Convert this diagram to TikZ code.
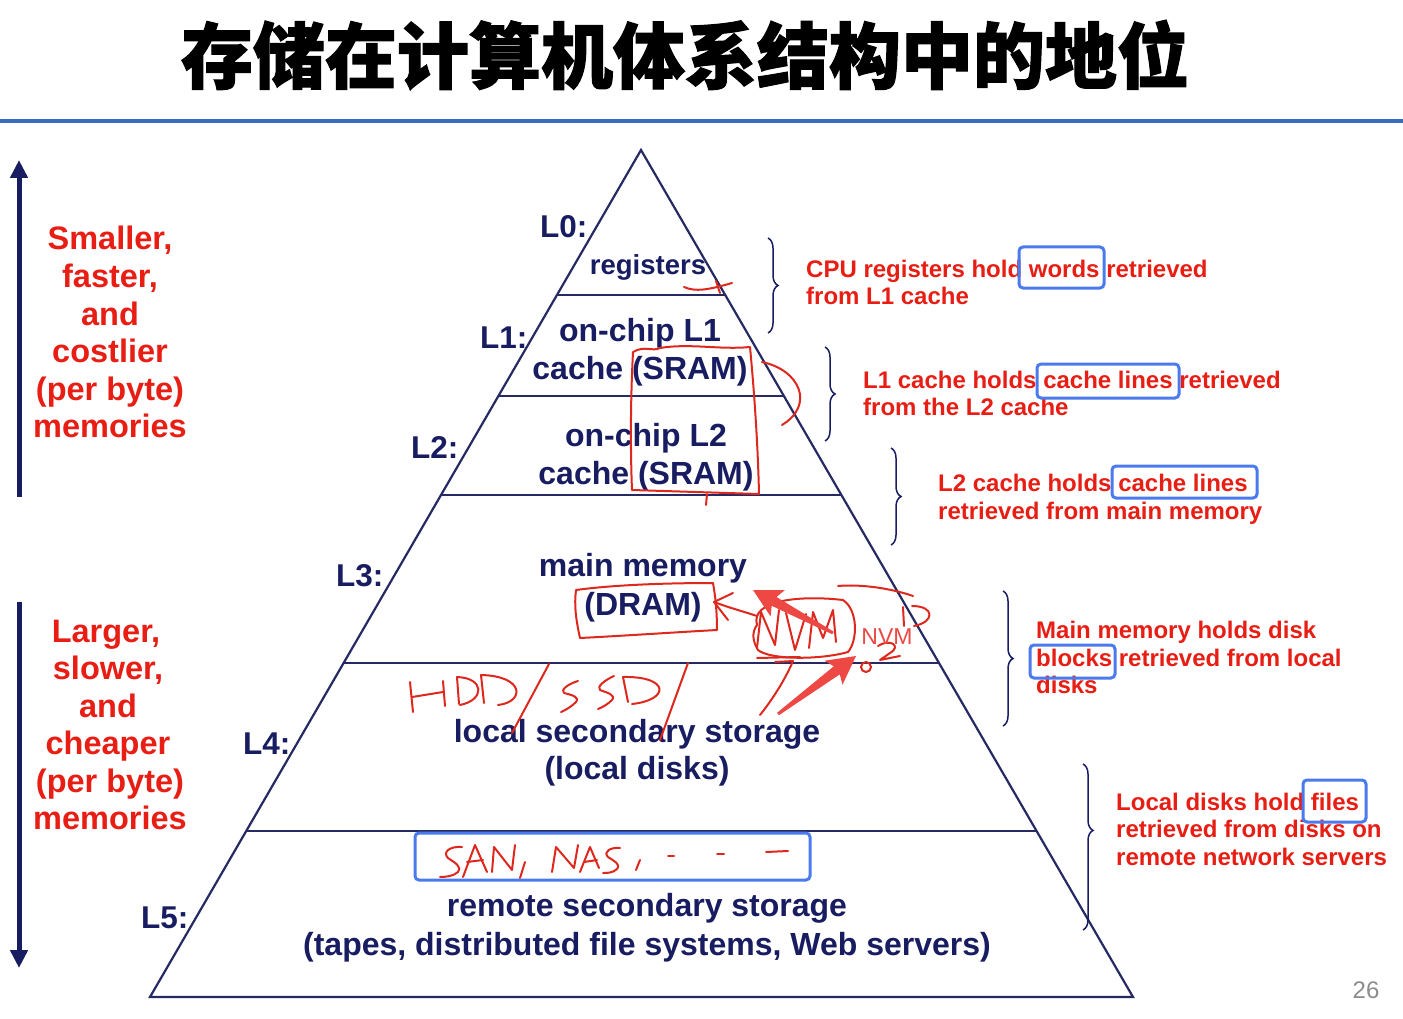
\documentclass[tikz,border=0pt]{standalone}
\usepackage{fontspec}
\setmainfont{Liberation Sans}
\newfontfamily\cjk[BoldFeatures={FakeBold=1.5}]{Noto Sans CJK SC}
\usetikzlibrary{arrows.meta,decorations.pathreplacing,calc}

\definecolor{navy}{RGB}{24,28,96}
\definecolor{edge}{RGB}{38,42,98}
\definecolor{hired}{RGB}{232,30,20}
\definecolor{ink}{RGB}{222,40,30}
\definecolor{boxblue}{RGB}{74,122,238}
\definecolor{arrowred}{RGB}{238,72,68}
\definecolor{rulecol}{RGB}{58,108,190}

\tikzset{
  lvl/.style={text=navy, font=\bfseries\fontsize{31.5}{37}\selectfont, anchor=base west, inner sep=0pt},
  ptext/.style={text=navy, font=\bfseries\fontsize{32}{38}\selectfont, anchor=base, inner sep=0pt},
  regtext/.style={text=navy, font=\bfseries\fontsize{27.5}{33}\selectfont, anchor=base, inner sep=0pt},
  desc/.style={text=hired, font=\bfseries\fontsize{24}{28}\selectfont, anchor=base west, inner sep=0pt},
  side/.style={text=hired, font=\bfseries\fontsize{32.5}{38}\selectfont, anchor=base, inner sep=0pt},
  hlbox/.style={draw=boxblue, line width=3pt, rounded corners=4pt},
  brc/.style={draw=navy, line width=1.5pt, decorate, decoration={brace, amplitude=10pt}},
  tier/.style={draw=edge, line width=2.2pt},
  hand/.style={draw=ink, line width=2pt, line cap=round, line join=round},
  bigarrow/.style={draw=navy, line width=5pt, -{Triangle[width=17pt,length=18pt]}},
}

\begin{document}
\begin{tikzpicture}[x=1pt,y=-1pt]
\useasboundingbox (0,0) rectangle (1403,1019);
\fill[white] (0,0) rectangle (1403,1019);

% title and rule
\node[font=\cjk\bfseries\fontsize{72}{76}\selectfont, text=black, inner sep=0pt] (title) at (685,55) {存储在计算机体系结构中的地位};
\fill[rulecol] (0,119) rectangle (1403,123.5);

% pyramid outline and tiers
\coordinate (A) at (641,150);
\coordinate (BL) at (150,997);
\coordinate (BR) at (1133,997);
\draw[tier, line join=miter] (BL) -- (A) -- (BR) -- cycle;
\foreach \t in {0.1712,0.2904,0.4073,0.6057,0.8040}
  \draw[tier] ($(A)!\t!(BL)$) -- ($(A)!\t!(BR)$);

% level labels
\node[lvl] (L0) at (540,238) {L0:};
\node[lvl] (L1) at (480,348) {L1:};
\node[lvl] (L2) at (411,458) {L2:};
\node[lvl] (L3) at (336,586) {L3:};
\node[lvl] (L4) at (243,754) {L4:};
\node[lvl] (L5) at (141,928) {L5:};

% tier contents
\node[regtext] (reg) at (648,274) {registers};
\node[ptext] (l1a) at (640,341) {on-chip L1};
\node[ptext] (l1b) at (640,379) {cache (SRAM)};
\node[ptext] (l2a) at (646,446) {on-chip L2};
\node[ptext] (l2b) at (646,484) {cache (SRAM)};
\node[ptext] (mm) at (643,576) {main memory};
\node[ptext] (dram) at (643,615) {(DRAM)};
\node[ptext] (lss) at (637,742) {local secondary storage};
\node[ptext] (ld) at (637,779) {(local disks)};
\node[ptext] (rss) at (647,916) {remote secondary storage};
\node[ptext] (rem) at (647,955) {(tapes, distributed file systems, Web servers)};

% side arrows and captions
\coordinate (upS) at (19,497); \coordinate (upE) at (19,160);
\coordinate (dnS) at (19,602); \coordinate (dnE) at (19,968);
\draw[bigarrow] (upS) -- (upE);
\draw[bigarrow] (dnS) -- (dnE);
\node[side] (s1) at (110,250) {Smaller,};
\node[side] (s2) at (110,287.5) {faster,};
\node[side] (s3) at (110,325) {and};
\node[side] (s4) at (110,362.5) {costlier};
\node[side] (s5) at (110,400) {(per byte)};
\node[side] (s6) at (110,437.5) {memories};
\node[side] (g1) at (106,642) {Larger,};
\node[side] (g2) at (108,679.5) {slower,};
\node[side] (g3) at (108,717) {and};
\node[side] (g4) at (108,754.5) {cheaper};
\node[side] (g5) at (110,792) {(per byte)};
\node[side] (g6) at (110,829.5) {memories};

% braces
\draw[brc] (768,238) -- (768,333);
\draw[brc] (825,347) -- (825,441);
\draw[brc] (891,448) -- (891,545);
\draw[brc] (1003,591) -- (1003,726);
\draw[brc, decoration={brace, amplitude=10pt, aspect=0.4}] (1083,764) -- (1083,930);

% descriptions
\node[desc] (d1a) at (806,277) {CPU registers hold words retrieved};
\node[desc] (d1b) at (806,304) {from L1 cache};
\node[desc] (d2a) at (863,388) {L1 cache holds cache lines retrieved};
\node[desc] (d2b) at (863,415) {from the L2 cache};
\node[desc] (d3a) at (938,491) {L2 cache holds cache lines};
\node[desc] (d3b) at (938,519) {retrieved from main memory};
\node[desc] (d4a) at (1036,638) {Main memory holds disk};
\node[desc] (d4b) at (1036,666) {blocks retrieved from local};
\node[desc] (d4c) at (1036,693) {disks};
\node[desc] (d5a) at (1116,810) {Local disks hold files};
\node[desc] (d5b) at (1116,837) {retrieved from disks on};
\node[desc] (d5c) at (1116,865) {remote network servers};

% highlight frames
\draw[hlbox] (1019,247) rectangle (1104,288);
\draw[hlbox] (1037,364) rectangle (1179,398);
\draw[hlbox] (1112,466) rectangle (1257,498);
\draw[hlbox] (1030,645) rectangle (1115,678);
\draw[hlbox] (1303,780) rectangle (1366,822);
\draw[hlbox] (415,833) rectangle (810,880);

% handwritten marks: registers
\draw[hand] (684,287) .. controls (695,292) and (708,290) .. (732,283);
\draw[hand] (716,281) -- (720,293);
% SRAM frame
\draw[hand] (633,352) .. controls (645,345) and (652,352) .. (660,348) .. controls (690,343) and (720,350) .. (750,347) .. controls (755,400) and (758,450) .. (759,494) -- (632,490) .. controls (630,440) and (631,390) .. (633,352);
\draw[hand] (707,494) -- (706,505);
\draw[hand] (762,362) .. controls (800,370) and (815,405) .. (782,425);
% DRAM frame and arrow
\draw[hand] (576,590) .. controls (620,584) and (680,583) .. (713,583) .. controls (716,600) and (717,615) .. (717,630) .. controls (680,632) and (620,636) .. (580,638) .. controls (576,620) and (574,605) .. (576,590);
\draw[hand] (733,593) -- (714,602) -- (728,620);
\draw[hand] (714,602) .. controls (730,608) and (745,612) .. (757,616);
% NVM scribble
\draw[hand] (757,625) .. controls (750,600) and (800,595) .. (843,600) .. controls (858,610) and (858,640) .. (848,652) .. controls (820,660) and (770,660) .. (758,650) .. controls (752,640) and (752,632) .. (757,625);
\draw[hand] (757,648) -- (761,612) -- (775,645) -- (779,610);
\draw[hand] (786,613) -- (795,650) -- (806,614);
\draw[hand] (809,648) -- (813,612) -- (823,638) -- (833,610) -- (836,642);
\draw[hand] (757,658) -- (800,657);
\draw[hand] (775,662) -- (793,661) .. controls (785,680) and (772,700) .. (760,715);
\draw[hand] (838,586) .. controls (860,584) and (890,588) .. (913,596);
\draw[hand] (903,607) -- (904,626);
\draw[hand] (912,606) .. controls (935,606) and (935,622) .. (914,626);
\draw[hand] (878,646) .. controls (890,638) and (902,646) .. (890,653) -- (880,660) -- (900,656);
\draw[hand] (866,667) circle (5);
% HDD/SSD/
\draw[hand] (410,682) -- (413,712);
\draw[hand] (412,697) -- (443,692);
\draw[hand] (443,681) -- (445,706);
\draw[hand] (457,677) -- (459,704);
\draw[hand] (457,677) .. controls (485,678) and (485,700) .. (460,705);
\draw[hand] (481,675) -- (484,703);
\draw[hand] (481,675) .. controls (525,676) and (525,702) .. (498,705);
\draw[hand] (549,664) -- (512,733);
\draw[hand] (578,681) .. controls (568,684) and (560,690) .. (564,693) .. controls (572,695) and (580,697) .. (576,702) .. controls (572,706) and (566,710) .. (561,712);
\draw[hand] (614,676) .. controls (605,680) and (596,687) .. (600,690) .. controls (608,693) and (616,695) .. (612,700) .. controls (608,704) and (603,707) .. (598,709);
\draw[hand] (623,677) -- (628,702);
\draw[hand] (623,677) .. controls (670,676) and (670,700) .. (632,704);
\draw[hand] (688,663) -- (660,740);
% SAN, NAS, ...
\draw[hand] (462,847) .. controls (450,846) and (442,852) .. (448,858) .. controls (455,863) and (462,866) .. (458,872) .. controls (454,876) and (446,877) .. (440,877);
\draw[hand] (463,877) -- (475,845) -- (487,872);
\draw[hand] (467,862) -- (483,860);
\draw[hand] (492,872) -- (494,847) -- (512,870) -- (515,845);
\draw[hand] (525,862) -- (520,878);
\draw[hand] (552,872) -- (556,847) -- (574,868) -- (578,845);
\draw[hand] (580,872) -- (590,847) -- (599,868);
\draw[hand] (584,862) -- (597,860);
\draw[hand] (620,848) .. controls (610,847) and (603,852) .. (608,857) .. controls (614,861) and (621,864) .. (617,869) .. controls (613,873) and (607,873) .. (603,873);
\draw[hand] (640,860) -- (636,870);
\draw[hand] (668,856) -- (674,856);
\draw[hand] (717,854) -- (724,854);
\draw[hand] (766,852) -- (788,851);

% pointer arrows and label
\fill[arrowred] (753,590) -- (784.8,590.1) -- (776.5,597.0) -- (833.7,631.7) -- (832.3,634.3) -- (771.7,605.8) -- (770.6,616.5) -- cycle;
\fill[arrowred] (856,656) -- (842.5,684.7) -- (839.8,674.3) -- (778.9,715.2) -- (777.1,712.8) -- (833.8,666.3) -- (824.5,660.7) -- cycle;
\node[text=arrowred, font=\fontsize{23}{26}\selectfont, inner sep=0pt] (nvm) at (887,637) {NVM};

% page number
\node[text=black!45, font=\fontsize{24}{28}\selectfont, inner sep=0pt] (pg) at (1366,990) {26};
\end{tikzpicture}
\end{document}
